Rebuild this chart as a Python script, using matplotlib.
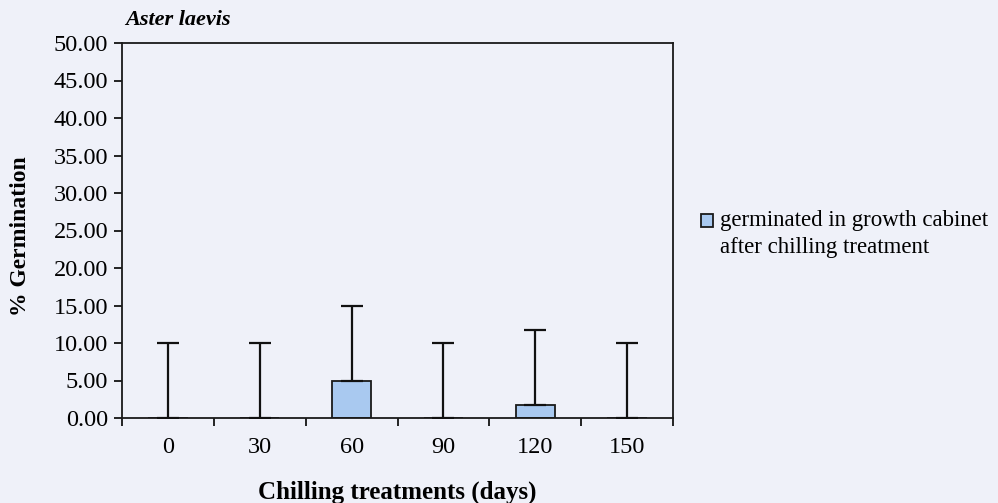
import matplotlib
matplotlib.use("Agg")
import matplotlib.pyplot as plt
import numpy as np
from matplotlib.patches import Rectangle
from matplotlib.container import BarContainer
from matplotlib.legend_handler import HandlerPatch, update_from_first_child

categories = ["0", "30", "60", "90", "120", "150"]
germinated = [0.0, 0.0, 5.0, 0.0, 1.67, 0.0]
errors = [10.0, 10.0, 10.0, 10.0, 10.0, 10.0]
yticks = [0, 5, 10, 15, 20, 25, 30, 35, 40, 45, 50]

plt.rcParams['font.family'] = ['Liberation Serif', 'DejaVu Serif']

bg = '#eff1f9'
fig = plt.figure(figsize=(9.98, 5.03), dpi=100, facecolor=bg)
ax = fig.add_axes([122/998, 1 - 418/503, (673-122)/998, (418-43)/503])
ax.set_facecolor(bg)

x = np.arange(len(categories))
bars = ax.bar(x, germinated, width=0.43, color='#a9c9f0', edgecolor='#1a1a1a', linewidth=1.3, zorder=2,
              label='germinated in growth cabinet\nafter chilling treatment')
ax.errorbar(x, germinated, yerr=[np.zeros(len(errors)), errors], fmt='none', ecolor='#111111',
            elinewidth=1.6, capsize=8, capthick=1.6, zorder=3)

ax.set_xlim(-0.5, len(categories) - 0.5)
ax.set_ylim(0, 50)
ax.set_yticks(yticks)
ax.set_yticklabels([f"{v:.2f}" for v in yticks], fontsize=17.5)
ax.set_xticks(x)
ax.set_xticklabels(categories, fontsize=17.5)
ax.tick_params(axis='x', length=0, pad=14)
ax.set_xticks(np.arange(len(categories) + 1) - 0.5, minor=True)
ax.tick_params(axis='x', which='minor', length=6, width=1.2, direction='out')
ax.tick_params(axis='y', length=6, width=1.2, direction='out', pad=4)
for s in ax.spines.values():
    s.set_linewidth(1.3)
    s.set_color('#1a1a1a')

ax.set_xlabel('Chilling treatments (days)', fontsize=18, fontweight='bold', labelpad=16)
ax.set_ylabel('% Germination', fontsize=17, fontweight='bold')
ax.yaxis.set_label_coords(-0.166, 0.485)
ax.text(0.005, 1.035, 'Aster laevis', transform=ax.transAxes, fontsize=16,
        fontweight='bold', fontstyle='italic', ha='left', va='bottom')


def raised_square(legend, orig_handle, xdescent, ydescent, width, height, fontsize):
    return Rectangle((-xdescent, -ydescent + 10.0), width, height)


leg = ax.legend(loc='center left', bbox_to_anchor=(1.0508, 0.49), frameon=False, fontsize=16.5,
                handlelength=0.52, handleheight=0.52, handletextpad=0.3, borderaxespad=0,
                borderpad=0,
                handler_map={BarContainer: HandlerPatch(patch_func=raised_square,
                                                        update_func=update_from_first_child)})
for t in leg.get_texts():
    t.set_linespacing(1.4)

fig.savefig('out.png', dpi=100, facecolor=bg)
